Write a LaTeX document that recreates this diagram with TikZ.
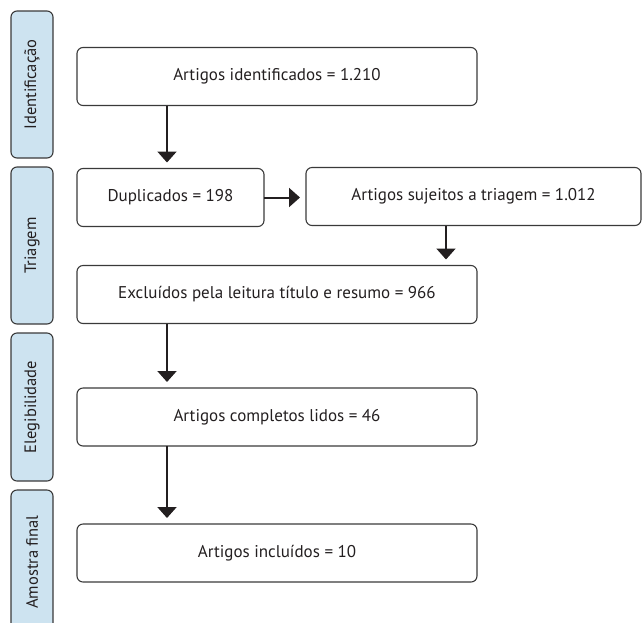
\documentclass[tikz,border=0pt]{standalone}
\usepackage{fontspec}
\setmainfont{PT Sans}
\usetikzlibrary{arrows.meta}
\definecolor{faseazul}{RGB}{205,227,240}
\definecolor{contorno}{RGB}{58,58,58}
\definecolor{tinta}{RGB}{35,31,32}

\begin{document}
\begin{tikzpicture}[x=1pt,y=-1pt,
    caixa/.style={draw=contorno,line width=1.1pt,rounded corners=6pt,minimum height=58pt,
      inner sep=0pt,outer sep=0pt,text=tinta,font=\fontsize{17}{20}\selectfont},
    fase/.style={draw=contorno,fill=faseazul,line width=1.1pt,rounded corners=6pt,rotate=90,
      minimum height=42pt,inner sep=0pt,outer sep=0pt,text=tinta,font=\fontsize{16.5}{20}\selectfont},
    seta/.style={-{Triangle[width=19pt,length=11pt]},line width=2pt,tinta,shorten >=6pt}]
        \clip (0,0) rectangle (644,622);
        \node[fase,minimum width=147pt] (f1) at (32,84.5) {Identificação};
        \node[fase,minimum width=157pt] (f2) at (32,245.5) {Triagem};
        \node[fase,minimum width=148pt] (f3) at (32,407) {Elegibilidade};
        \node[fase,minimum width=144pt] (f4) at (32,562) {Amostra final};
        \node[caixa,minimum width=400pt] (ident) at (277,76.5) {Artigos identificados = 1.210};
        \node[caixa,minimum width=187pt] (dup) at (170.5,197.5) {Duplicados = 198};
        \node[caixa,minimum width=335pt] (suj) at (473.5,196.5) {Artigos sujeitos a triagem = 1.012};
        \node[caixa,minimum width=400pt] (excl) at (277,294.5) {Excluídos pela leitura título e resumo = 966};
        \node[caixa,minimum width=400pt] (lidos) at (277,417) {Artigos completos lidos = 46};
        \node[caixa,minimum width=400pt] (incl) at (277,553) {Artigos incluídos = 10};
        \draw[seta] ([xshift=90pt]ident.south west) -- ([xshift=90pt]dup.north west);
        \draw[seta] (dup.east) -- (dup.east -| suj.west);
        \draw[seta] ([xshift=140pt]suj.south west) -- ([xshift=140pt]suj.south west |- excl.north);
        \draw[seta] ([xshift=90pt]excl.south west) -- ([xshift=90pt]lidos.north west);
        \draw[seta] ([xshift=90pt]lidos.south west) -- ([xshift=90pt]incl.north west);
\end{tikzpicture}
\end{document}
